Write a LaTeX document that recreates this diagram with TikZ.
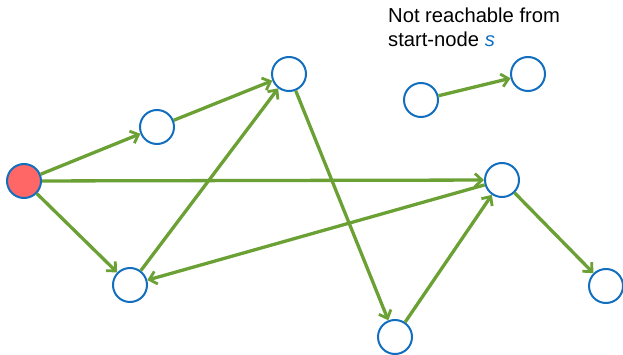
\documentclass[tikz,border=0pt]{standalone}
\usepackage{fontspec}
\setmainfont{Liberation Sans}
\usetikzlibrary{arrows.meta}
\definecolor{edgegreen}{RGB}{106,160,52}
\definecolor{nodeblue}{RGB}{18,110,190}
\definecolor{startred}{RGB}{255,102,102}
\tikzset{
  vertex/.style={circle, draw=nodeblue, line width=2pt, fill=white, minimum size=34pt, inner sep=0pt},
  startvertex/.style={vertex, fill=startred},
  edge/.style={draw=edgegreen, line width=3.3pt, -{Straight Barb[length=7pt,width=13pt,line width=2.8pt]}},
}
\begin{document}
\begin{tikzpicture}[x=1pt,y=-1pt]
\useasboundingbox (0,0) rectangle (623,355);
% vertices
\node[startvertex] (s) at (24,181) {};
\node[vertex] (a) at (157,127) {};
\node[vertex] (b) at (289,74) {};
\node[vertex] (c) at (130,285) {};
\node[vertex] (d) at (502,180) {};
\node[vertex] (e) at (395,337) {};
\node[vertex] (f) at (606,286) {};
\node[vertex] (g) at (421,100) {};
\node[vertex] (h) at (528,74) {};
% edges
\draw[edge] (s) -- (a);
\draw[edge] (a) -- (b);
\draw[edge] (s) -- (c);
\draw[edge] (s) -- (d);
\draw[edge] (c) -- (b);
\draw[edge] (b) -- (e);
\draw[edge] (e) -- (d);
\draw[edge] (d) -- (c);
\draw[edge] (d) -- (f);
\draw[edge] (g) -- (h);
% caption of the unreachable pair
\node[anchor=north west, align=left, inner sep=0pt, font=\fontsize{20.2}{24.5}\selectfont] (lbl) at (388,7.5)
  {Not reachable from\\start-node \textcolor{nodeblue}{\textit{s}}};
\end{tikzpicture}
\end{document}
